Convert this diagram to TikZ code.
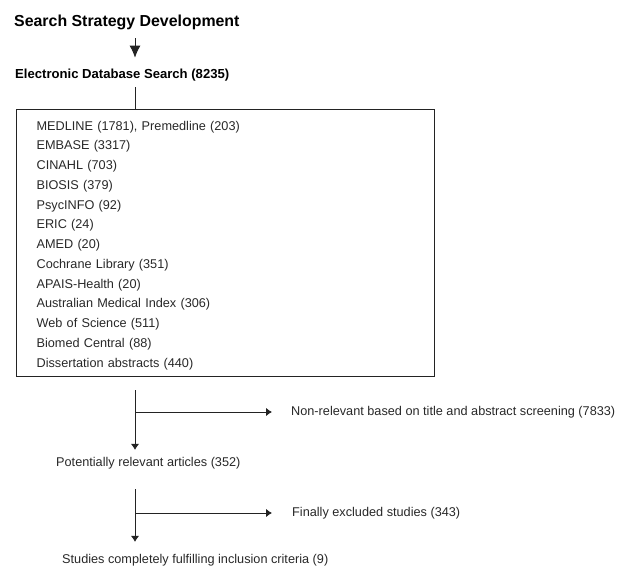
\documentclass[tikz,border=0pt]{standalone}
\usepackage{fontspec}
\setmainfont{Liberation Sans}
\usepackage{tikz}
\usetikzlibrary{arrows.meta, positioning}

\begin{document}
\begin{tikzpicture}[>={Latex[length=6pt,width=8.5pt]}, x=1pt, y=-1pt,
    txt/.style={anchor=west, inner sep=0pt, text=textgray,
        font=\fontsize{12.7}{19.75}\selectfont},
    head/.style={anchor=west, inner sep=0pt, text=black,
        font=\bfseries\fontsize{#1}{#1}\selectfont},
    link/.style={line width=1pt, draw=linegray}]
    % Colours for text and lines
    \definecolor{textgray}{RGB}{40,40,40}
    \definecolor{linegray}{RGB}{35,35,35}

    % 1. Page frame and the spine of the flow
    \useasboundingbox (0,0) rectangle (630,578);
    \coordinate (spine) at (135,0);

    % 2. Headings
    \node[head=15.9] (strategy) at (14,22) {Search Strategy Development};
    \node[head=13.1] (electronic) at (15,75) {Electronic Database Search (8235)};

    % 3. Box with the databases searched
    \node[txt, draw=linegray, line width=1.2pt, anchor=north west,
          minimum width=418pt, minimum height=267pt, inner xsep=20pt,
          text width=378pt, align=left] (databases) at (16,109)
        {\rule{0pt}{13.5pt}MEDLINE (1781), Premedline (203)\\
         EMBASE (3317)\\
         CINAHL (703)\\
         BIOSIS (379)\\
         PsycINFO (92)\\
         ERIC (24)\\
         AMED (20)\\
         Cochrane Library (351)\\
         APAIS-Health (20)\\
         Australian Medical Index (306)\\
         Web of Science (511)\\
         Biomed Central (88)\\
         Dissertation abstracts (440)};

    % 4. Screening results
    \node[txt] (nonrel) at (291,412) {Non-relevant based on title and abstract screening (7833)};
    \node[txt] (relevant) at (56,463) {Potentially relevant articles (352)};
    \node[txt] (excluded) at (292,513) {Finally excluded studies (343)};
    \node[txt] (included) at (62,560) {Studies completely fulfilling inclusion criteria (9)};

    % 5. Connectors
    \draw[link, -{Latex[length=12pt,width=11pt]}, shorten <=8.5pt, shorten >=11pt]
        (strategy.south -| spine) -- (electronic.north -| spine);
    \draw[link, shorten <=6pt] (electronic.south -| spine) -- (databases.north -| spine);
    \draw[link, ->, shorten <=13pt, shorten >=7pt] (databases.south -| spine) -- (relevant.north -| spine);
    \draw[link, ->, shorten >=19pt] (nonrel.west -| spine) -- (nonrel.west);
    \draw[link, ->, shorten <=20pt, shorten >=12pt] (relevant.south -| spine) -- (included.north -| spine);
    \draw[link, ->, shorten >=20pt] (excluded.west -| spine) -- (excluded.west);
\end{tikzpicture}
\end{document}
